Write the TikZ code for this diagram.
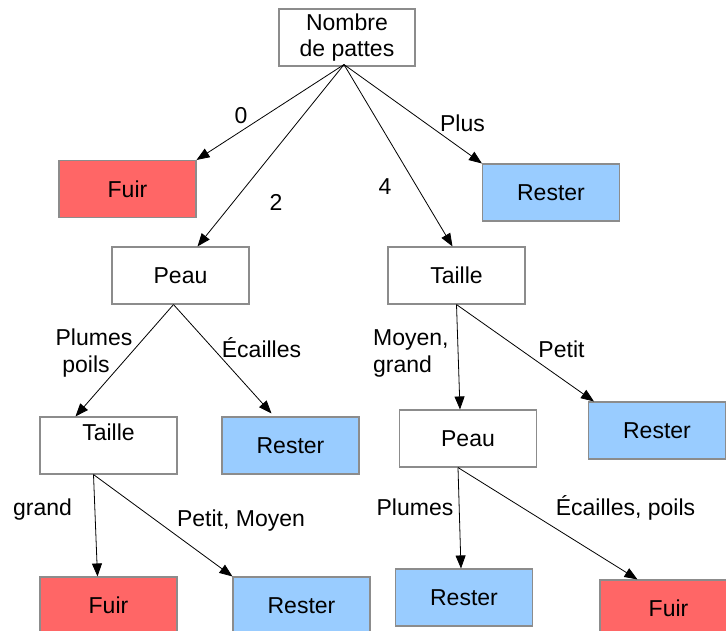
\documentclass[tikz,border=0pt]{standalone}
\usepackage{fontspec}
\setmainfont{Liberation Sans}
\usetikzlibrary{arrows.meta}
\definecolor{fuirred}{HTML}{FF6666}
\definecolor{resterblue}{HTML}{99CCFF}
\definecolor{boxgray}{HTML}{8C8C8C}
\begin{document}
\begin{tikzpicture}[x=1pt,y=-1pt,
  every node/.style={font=\fontsize{23}{26.5}\selectfont},
  box/.style={draw=boxgray,line width=1.1pt,minimum width=137pt,minimum height=57pt,inner sep=0pt,align=center},
  decision/.style={box,fill=white},
  fuir/.style={box,fill=fuirred},
  rester/.style={box,fill=resterblue},
  edge/.style={-{Triangle[length=13pt,width=10pt]},line width=0.8pt,draw=black},
  lbl/.style={anchor=base,inner sep=0pt},
  lblw/.style={anchor=base west,inner sep=0pt}]
\clip (0,0) rectangle (726,630);
\fill[white] (0,0) rectangle (726,630);
% nodes
\node[decision,minimum width=136pt] (root) at (347,37.5) {Nombre\\de pattes};
\node[fuir] (fuir1) at (127.5,189) {Fuir};
\node[decision] (peau1) at (180.5,275.5) {Peau};
\node[rester] (rester1) at (551,192.5) {Rester};
\node[decision] (taille2) at (456.5,275.5) {Taille};
\node[decision] (taille1) at (108.5,445.5) {Taille\\\mbox{}};
\node[rester] (rester2) at (290.5,445.5) {Rester};
\node[decision] (peau2) at (468,438.5) {Peau};
\node[rester] (rester4) at (657,430.5) {Rester};
\node[fuir] (fuir2) at (108.5,605.5) {Fuir};
\node[rester] (rester3) at (301.5,605.5) {Rester};
\node[rester] (rester5) at (464,597.5) {Rester};
\node[fuir] (fuir3) at (668.5,608.5) {Fuir};
% edges
\coordinate (r0) at ([xshift=-3pt,yshift=2pt]root.south);
\draw[edge] (r0) -- (fuir1.north east);
\draw[edge] (r0) -- ([xshift=17pt]peau1.north);
\draw[edge] (r0) -- ([xshift=-4pt]taille2.north);
\draw[edge] (r0) -- (rester1.north west);
\coordinate (p1) at ([xshift=-7pt]peau1.south);
\draw[edge] (p1) -- ([xshift=-33pt]taille1.north);
\draw[edge] (p1) -- ([xshift=-19pt,yshift=3pt]rester2.north);
\coordinate (t2) at (taille2.south);
\draw[edge] (t2) -- ([xshift=-8pt]peau2.north);
\draw[edge] (t2) -- ([xshift=6pt]rester4.north west);
\coordinate (t1) at ([xshift=-15pt]taille1.south);
\draw[edge] (t1) -- ([xshift=-11pt]fuir2.north);
\draw[edge] (t1) -- (rester3.north west);
\coordinate (p2) at ([xshift=-10pt]peau2.south);
\draw[edge] (p2) -- ([xshift=-3pt]rester5.north);
\draw[edge] (p2) -- ([xshift=-31pt]fuir3.north);
% labels
\node[lbl] (l0) at (241,123) {0};
\node[lbl] (lplus) at (462.5,131.5) {Plus};
\node[lbl] (l2) at (276,210) {2};
\node[lbl] (l4) at (385,194) {4};
\node[lbl] (lplumesa) at (94,345) {Plumes};
\node[lbl] (lpoils) at (86,372.5) {poils};
\node[lbl] (lecailles) at (261.5,357) {Écailles};
\node[lblw] (lmoyen) at (373,345) {Moyen,};
\node[lblw] (lgranda) at (373,372) {grand};
\node[lbl] (lpetit) at (561.5,357) {Petit};
\node[lbl] (lgrandb) at (42.5,515) {grand};
\node[lbl] (lpetitmoyen) at (241,526.5) {Petit, Moyen};
\node[lbl] (lplumesb) at (415,515.5) {Plumes};
\node[lbl] (lecaillespoils) at (625.5,515.5) {Écailles, poils};
\end{tikzpicture}
\end{document}
